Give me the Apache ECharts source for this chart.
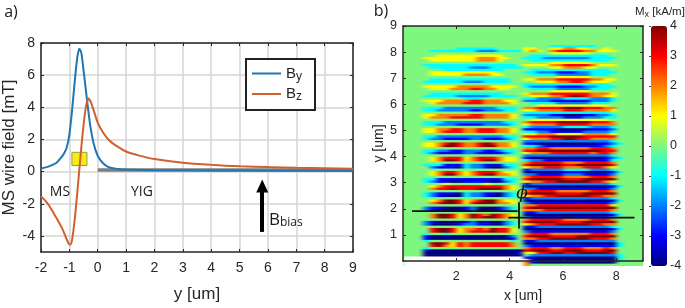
<!DOCTYPE html>
<html><head><meta charset="utf-8">
<style>html,body{margin:0;padding:0;background:#fff}
#c{position:absolute;left:0;top:0;width:685px;height:308px;filter:blur(0.4px)}
#w{position:absolute;left:403px;top:26px;width:240px;height:240px;overflow:hidden}
#h{width:260px;height:260px;margin:-10px;filter:url(#soft)}</style>
<script src="https://cdn.jsdelivr.net/npm/echarts@6/dist/echarts.min.js"></script>
</head><body>
<svg width="0" height="0" style="position:absolute"><filter id="soft" x="0" y="0" width="100%" height="100%" color-interpolation-filters="sRGB"><feGaussianBlur stdDeviation="2.4 0.7"/></filter></svg>
<div id="w"><div id="h"></div></div><div id="c"></div>
<script>
const byPoints = [[-2,0.2],[-1.8,0.28],[-1.6,0.42],[-1.45,0.55],[-1.3,0.85],[-1.2,1.1],[-1.1,1.45],[-1,2.3],[-0.9,3.9],[-0.8,5.8],[-0.72,7.1],[-0.65,7.65],[-0.58,7.4],[-0.5,6.3],[-0.42,5.1],[-0.34,3.9],[-0.25,2.7],[-0.15,1.8],[-0.02,1.05],[0.1,0.7],[0.2,0.5],[0.33,0.33],[0.5,0.22],[0.7,0.17],[1,0.13],[2,0.09],[4,0.07],[6,0.06],[9,0.05]];
const bzPoints = [[-2,-1.55],[-1.85,-1.8],[-1.7,-2.15],[-1.55,-2.6],[-1.4,-3.05],[-1.25,-3.55],[-1.12,-4.1],[-1.03,-4.45],[-0.97,-4.55],[-0.9,-4.2],[-0.8,-2.8],[-0.7,-0.9],[-0.6,1.1],[-0.5,2.9],[-0.42,4],[-0.36,4.45],[-0.32,4.55],[-0.25,4.35],[-0.15,3.85],[0,3.05],[0.2,2.4],[0.4,1.95],[0.7,1.55],[1,1.25],[1.5,0.98],[2,0.78],[3,0.55],[4,0.42],[5,0.33],[6,0.28],[7,0.24],[8,0.21],[9,0.18]];
const yigBar = [[0,0.1],[9,0.1]];
const wireBox = [[-0.91,1.2],[-0.38,0.38]];
const biasArrow = [[5.8,-3.75],[5.8,-0.9]];
const xTicksA = [-2,-1,0,1,2,3,4,5,6,7,8,9];
const yTicksA = [-4,-2,0,2,4,6,8];
const xTicksB = [2,4,6,8];
const yTicksB = [1,2,3,4,5,6,7,8,9];
const cbTicks = [-4,-3,-2,-1,0,1,2,3,4];
const lineH1 = [[0.34,1.91],[4.3,1.91]];
const lineH2 = [[3.95,1.66],[8.68,1.66]];
const lineV = [[4.35,1.24],[4.35,2.25]];
const jet = ['#00007f','#0000ff','#007fff','#00ffff','#7ff77f','#ffff00','#ff7f00','#ff0000','#7f0000'];
// Mx map, top row first; digit d means d-4 kA/m, '-' is no data
const mxRows = [
"444 444444444444444 444444444444444 444",
"444 444444444444444 444444444444444 444",
"444 444444444444444 444444444444444 444",
"444 444444444444444 444444444444444 444",
"444 444444444444444 444444444444444 444",
"444 444444444444444 444444444444444 444",
"444 444444444444444 444444444444444 444",
"444 444444444444444 444444444444444 444",
"444 444444444444444 444433333334444 444",
"444 444443333334444 554455665544544 444",
"444 433333332223333 565467777665554 444",
"444 444444444444444 444455555544444 444",
"444 445555555555444 433333333333344 444",
"444 555555556665544 333222222233334 444",
"444 455555556665444 433333333333344 444",
"444 444444444444444 444455555544444 444",
"444 333333333333334 555566777765554 444",
"444 433333322233333 444455666554444 444",
"444 444333333333444 433333333333344 444",
"444 455555555554444 332221112233334 444",
"444 455555666655444 433332222233344 444",
"444 444444444444444 444445555544444 444",
"444 433333333333344 556667777766554 444",
"444 333333222333344 445556677655544 444",
"444 444444444444444 333333333333344 444",
"444 555556666655554 322221111223334 444",
"444 455566677665544 433332222233344 444",
"444 444444444444444 444455555544444 444",
"444 433333333333444 566677777766654 444",
"444 333332222233334 455566788766554 444",
"444 444444333444444 332222333322234 444",
"444 555666677666554 222211111122234 444",
"444 456666777666654 433332222233344 444",
"444 444444444444444 445555555555544 444",
"444 333222222223334 667777888777664 444",
"444 332222211222334 556666777666654 444",
"444 444444444444444 333333333333344 444",
"444 556666677666654 222211000112234 444",
"444 566677777666654 332222111222334 444",
"444 444444444444444 455555555555544 444",
"444 333222222222334 677778888877764 444",
"444 332221111222234 566667777766664 444",
"444 444444444444444 322222333322234 444",
"444 556677667776654 111110000011124 444",
"444 556777667776654 332211111222234 444",
"444 444444444444444 556665555666654 444",
"444 332222222222334 777788888777774 444",
"444 322111122111234 566677887766664 444",
"444 444444444444444 222222222222234 444",
"444 556787667876654 110000000001123 444",
"444 556887667886654 332111111111234 444",
"444 444444444444444 667766666677764 444",
"444 332211222112334 778888888888774 444",
"444 321111221111234 566677777767764 444",
"444 444444444444444 222222222222234 444",
"444 456777567776554 100000000000123 444",
"444 456887567886554 322111111111134 444",
"444 444444444444444 677777666777764 444",
"444 333111322111334 788888778888874 444",
"444 421110322100234 566777666777654 444",
"444 444444444444444 122222333322234 444",
"444 456776567776554 000000111000013 444",
"444 456886567886654 221111222111124 444",
"444 444444444444444 677777666677764 444",
"444 331111111111334 788888777888884 444",
"444 321100111100234 566778888877654 444",
"444 444544444544444 122222222222234 444",
"444 456777777777654 000000000000013 444",
"444 467787778888654 221111111111124 444",
"444 444444444444444 677776666677764 444",
"444 321110322110234 788887777888884 444",
"444 321000322100234 566778888877664 444",
"444 444444444444444 122222222222234 444",
"444 456887567886554 000000000000013 444",
"444 467887578886654 211111111111124 444",
"444 444444444444444 667777777777754 444",
"444 211000120001234 788888888888884 444",
"444 210000120001234 666777777777764 444",
"444 444444444444444 112222222222234 444",
"444 468875687687654 000000000000013 444",
"444 468875687887654 211111011111124 444",
"444 444444444444444 677777666677764 444",
"444 210000120100234 788887777888884 444",
"444 200001221100234 567778888877664 444",
"444 444444444444444 112222222222234 444",
"444 478875667687754 000000000000013 444",
"444 478875677787754 211111111111124 444",
"444 344344444444444 677766666677764 444",
"444 100000000000024 788877778888884 444",
"444 100000000000014 667788888877764 444",
"444 344444444444434 112222222222224 444",
"444 488757677777764 000000000000003 444",
"444 478657677777764 211111111111113 444",
"444 344444444444444 677766777666764 444",
"444 100000000000000 788877888777884 444",
"444 000000000000001 557788778888874 444",
"444 000000000000000 422222222222223 444",
"--- --------------- 110000000000003 444",
"--- --------------- 500000000000003 444",
"--- --------------- 610000000000004 444",
"--- --------------- 644444444444444 444"
];
const compact = mxRows.map(r => r.replace(/ /g, ''));
const nRows = compact.length, nCols = compact[0].length;
const cellW = 9 / nCols, cellH = 9 / nRows;
const cells = [], noData = [];
compact.forEach((row, r) => {
  for (let c = 0; c < row.length; c++) {
    const x = c * cellW, y = 9 - (r + 1) * cellH;
    if (row[c] === '-') noData.push([x, y]); else cells.push([x, y, Number(row[c]) - 4]);
  }
});
function cellRect(api, fill) {
  const p = api.coord([api.value(0), api.value(1)]);
  const s = api.size([cellW, cellH]);
  return {type: 'rect', shape: {x: p[0], y: p[1] - s[1], width: s[0] + 0.5, height: s[1] + 0.5}, style: {fill}};
}
const heat = echarts.init(document.getElementById('h'), null, {renderer: 'canvas', width: 260, height: 260});
heat.setOption({
  animation: false,
  backgroundColor: jet[4],
  grid: {left: 10, top: 10, width: 240, height: 240},
  xAxis: {type: 'value', min: 0, max: 9, show: false},
  yAxis: {type: 'value', min: 0, max: 9, show: false},
  visualMap: {show: false, type: 'continuous', min: -4, max: 4, dimension: 2, seriesIndex: 0, inRange: {color: jet}},
  series: [
    {name: 'Mx', type: 'custom', data: cells, encode: {x: 0, y: 1}, clip: false, renderItem: (p, api) => cellRect(api, api.visual('color'))},
    {name: 'no data', type: 'custom', data: noData, encode: {x: 0, y: 1}, clip: false, renderItem: (p, api) => cellRect(api, '#ffffff')}
  ]
});
const F = 'Liberation Sans, Arial, sans-serif';
const H = 'Open Sans, sans-serif';
const dark = '#262626';
const tickA = {fontFamily: F, fontSize: 14, color: dark};
function note(x, y, text, size) {
  return {type: 'text', x, y, z: 20, style: {text, fontFamily: H, fontSize: size, fill: '#1a1a1a', textAlign: 'center', textVerticalAlign: 'middle'}};
}
const line = {onZero: false, lineStyle: {color: dark, width: 1.5}};
const option = {
  animation: false,
  backgroundColor: 'transparent',
  grid: [
    {left: 41, top: 43, width: 312, height: 213},
    {left: 403, top: 26, width: 240, height: 240},
    {left: 651, top: 26, width: 16, height: 240}
  ],
  xAxis: [
    {gridIndex: 0, type: 'value', min: -2, max: 9, position: 'bottom', name: 'y [um]', nameLocation: 'middle', nameGap: 34, nameTextStyle: {fontFamily: F, fontSize: 17, color: dark},
     axisLine: line, axisTick: {inside: true, length: 3, customValues: xTicksA, lineStyle: {color: dark}},
     axisLabel: Object.assign({customValues: xTicksA, margin: 9}, tickA), splitLine: {show: true, lineStyle: {color: '#d4d4d4', width: 1.5}}},
    {gridIndex: 0, type: 'value', min: -2, max: 9, position: 'top', axisLine: line, axisTick: {inside: true, length: 3, customValues: xTicksA, lineStyle: {color: dark}}, axisLabel: {show: false}, splitLine: {show: false}},
    {gridIndex: 1, type: 'value', min: 0, max: 9, position: 'bottom', name: 'x [um]', nameLocation: 'middle', nameGap: 28, nameTextStyle: {fontFamily: F, fontSize: 14, color: dark},
     axisLine: line, axisTick: {inside: true, length: 3, customValues: xTicksB, lineStyle: {color: dark}},
     axisLabel: {customValues: xTicksB, margin: 9, fontFamily: F, fontSize: 12.5, color: dark}, splitLine: {show: false}},
    {gridIndex: 1, type: 'value', min: 0, max: 9, position: 'top', axisLine: line, axisTick: {inside: true, length: 3, customValues: xTicksB, lineStyle: {color: dark}}, axisLabel: {show: false}, splitLine: {show: false}},
    {gridIndex: 2, type: 'value', show: false, min: 0, max: 1}
  ],
  yAxis: [
    {gridIndex: 0, type: 'value', min: -5, max: 8, position: 'left', name: 'MS wire field [mT]', nameLocation: 'middle', nameGap: 23, nameTextStyle: {fontFamily: F, fontSize: 17, color: dark},
     axisLine: line, axisTick: {inside: true, length: 3, customValues: yTicksA, lineStyle: {color: dark}},
     axisLabel: Object.assign({customValues: yTicksA, margin: 6}, tickA), splitLine: {show: true, lineStyle: {color: '#d4d4d4', width: 1.5}}},
    {gridIndex: 0, type: 'value', min: -5, max: 8, position: 'right', axisLine: line, axisTick: {inside: true, length: 3, customValues: yTicksA, lineStyle: {color: dark}}, axisLabel: {show: false}, splitLine: {show: false}},
    {gridIndex: 1, type: 'value', min: 0, max: 9, position: 'left', name: 'y [um]', nameLocation: 'middle', nameGap: 12, nameTextStyle: {fontFamily: F, fontSize: 14, color: dark},
     axisLine: line, axisTick: {inside: true, length: 3, customValues: yTicksB, lineStyle: {color: dark}},
     axisLabel: {customValues: yTicksB, margin: 6, fontFamily: F, fontSize: 12.5, color: dark}, splitLine: {show: false}},
    {gridIndex: 1, type: 'value', min: 0, max: 9, position: 'right', axisLine: line, axisTick: {inside: true, length: 3, customValues: yTicksB, lineStyle: {color: dark}}, axisLabel: {show: false}, splitLine: {show: false}},
    {gridIndex: 2, type: 'value', min: -4, max: 4, position: 'right', axisLine: {show: false}, axisTick: {inside: true, length: 2, customValues: cbTicks, lineStyle: {color: '#444'}},
     axisLabel: {customValues: cbTicks, margin: 3, fontFamily: F, fontSize: 12.5, color: dark}, splitLine: {show: false}}
  ],
  visualMap: {type: 'continuous', min: -4, max: 4, seriesIndex: 3, left: 651, top: 26, itemWidth: 16, itemHeight: 240, padding: 0, calculable: false, realtime: false, text: null, inRange: {color: jet}},
  legend: {
    data: ['By', 'Bz'], left: 246, top: 59, orient: 'vertical', padding: [7, 13, 7, 6], itemGap: 4, itemWidth: 29, itemHeight: 2,
    backgroundColor: '#fff', borderColor: '#222', borderWidth: 2, icon: 'rect',
    formatter: n => n === 'By' ? '{m|B}{s|y}' : '{m|B}{s|z}',
    textStyle: {rich: {m: {fontFamily: F, fontSize: 15, color: dark, lineHeight: 18}, s: {fontFamily: F, fontSize: 12, color: dark, verticalAlign: 'bottom', padding: [5, 0, 0, 0]}}}
  },
  graphic: [
    note(11, 12, 'a)', 16),
    note(381, 11, 'b)', 16),
    note(60, 192, 'MS', 14),
    note(142, 192, 'YIG', 14),
    {type: 'text', x: 269, y: 211, z: 20, style: {text: '{a|B}{b|bias}', rich: {a: {fontFamily: H, fontSize: 17, fill: '#1a1a1a'}, b: {fontFamily: H, fontSize: 12, fill: '#1a1a1a', padding: [6, 0, 0, 0]}}}},
    {type: 'text', x: 635, y: 5, z: 20, style: {text: '{a|M}{b|x}{a| [kA/m]}', rich: {a: {fontFamily: F, fontSize: 11.5, fill: dark}, b: {fontFamily: F, fontSize: 9, fill: dark, padding: [5, 0, 0, 0]}}}},
    {type: 'text', x: 522, y: 194, z: 20, style: {text: 'ϕ', fontFamily: 'DejaVu Serif, serif', fontStyle: 'italic', fontSize: 17, fill: '#111', textAlign: 'center', textVerticalAlign: 'middle'}}
  ],
  series: [
    {name: 'YIG', type: 'line', xAxisIndex: 0, yAxisIndex: 0, data: yigBar, symbol: 'none', z: 2, lineStyle: {color: '#7f7f7f', width: 3.5}},
    {name: 'By', type: 'line', xAxisIndex: 0, yAxisIndex: 0, data: byPoints, symbol: 'none', smooth: 0.25, z: 4, color: '#1f77b4', lineStyle: {width: 2},
     markLine: {silent: true, symbol: ['none', 'triangle'], symbolSize: [12, 13], label: {show: false}, lineStyle: {color: '#000', width: 4, type: 'solid'},
       data: [[{coord: biasArrow[0]}, {coord: biasArrow[1]}]]}},
    {name: 'Bz', type: 'line', xAxisIndex: 0, yAxisIndex: 0, data: bzPoints, symbol: 'none', smooth: 0.25, z: 5, color: '#d0602d', lineStyle: {width: 2},
     markArea: {silent: true, itemStyle: {color: '#f5ee10', borderColor: '#9a9a50', borderWidth: 1}, data: [[{coord: wireBox[0]}, {coord: wireBox[1]}]]}},
    {name: 'colour key', type: 'line', xAxisIndex: 4, yAxisIndex: 4, data: [], symbol: 'none'},
    {name: 'h1', type: 'line', xAxisIndex: 2, yAxisIndex: 2, data: lineH1, symbol: 'none', z: 7, lineStyle: {color: '#111', width: 1.8}},
    {name: 'h2', type: 'line', xAxisIndex: 2, yAxisIndex: 2, data: lineH2, symbol: 'none', z: 7, lineStyle: {color: '#111', width: 1.8}},
    {name: 'v', type: 'line', xAxisIndex: 2, yAxisIndex: 2, data: lineV, symbol: 'none', z: 7, lineStyle: {color: '#111', width: 1.8}}
  ]
};
const chart = echarts.init(document.getElementById('c'), null, {renderer: 'canvas', width: 685, height: 308});
chart.setOption(option);
</script></body></html>
